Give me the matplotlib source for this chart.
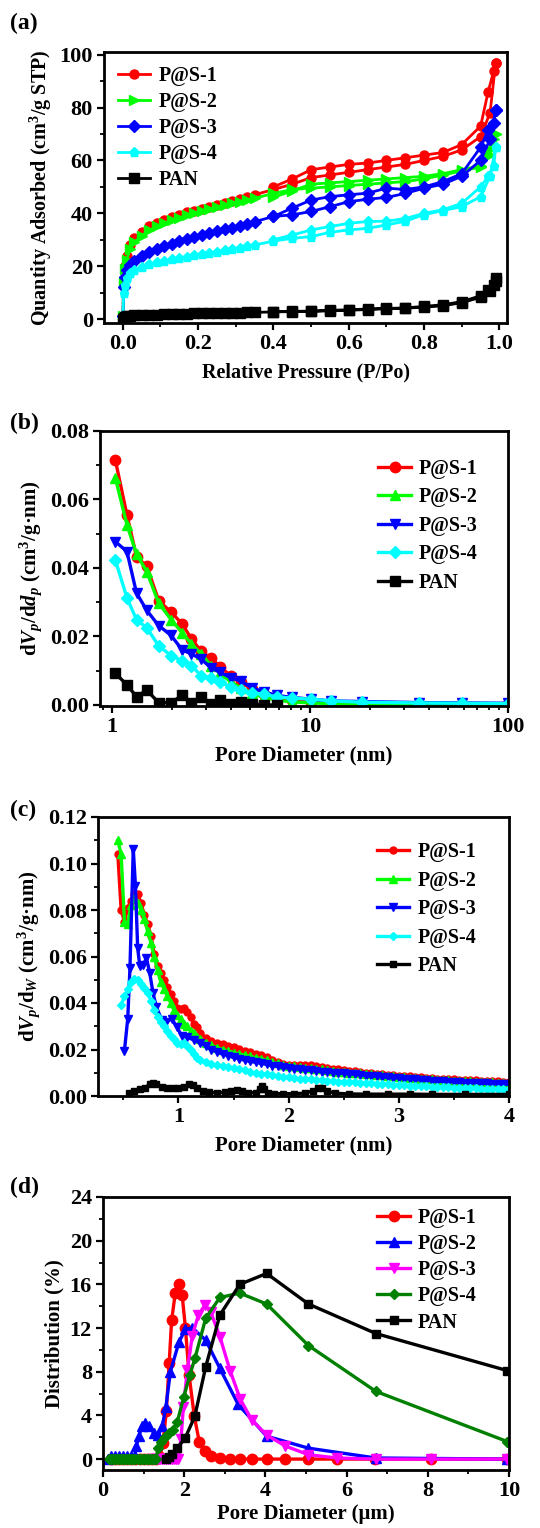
import matplotlib
matplotlib.use("Agg")
import matplotlib.pyplot as plt
from matplotlib.ticker import MultipleLocator, FormatStrFormatter, FixedLocator, NullFormatter, LogLocator

plt.rcParams['font.family'] = ['Liberation Serif', 'DejaVu Serif']
plt.rcParams['font.weight'] = 'bold'
plt.rcParams['axes.labelweight'] = 'bold'
plt.rcParams['mathtext.fontset'] = 'custom'
plt.rcParams['mathtext.rm'] = 'Liberation Serif:bold'
plt.rcParams['mathtext.bf'] = 'Liberation Serif:bold'
plt.rcParams['mathtext.it'] = 'Liberation Serif:italic:bold'
plt.rcParams['mathtext.default'] = 'rm'

# ---------------- Panel (a): N2 isotherms ----------------
a_p_ads = [0.0005, 0.002, 0.005, 0.01, 0.02, 0.03, 0.05, 0.07, 0.09, 0.11, 0.13, 0.15, 0.17, 0.19,
           0.21, 0.23, 0.25, 0.27, 0.29, 0.31, 0.33, 0.35, 0.40, 0.45, 0.50, 0.55, 0.60, 0.65,
           0.70, 0.75, 0.80, 0.85, 0.90, 0.95, 0.975, 0.99]
a_p_des = [0.99, 0.985, 0.97, 0.95, 0.90, 0.85, 0.80, 0.75, 0.70, 0.65, 0.60, 0.55, 0.50, 0.45, 0.40]

a_s1_ads = [1, 15, 20, 24, 28, 30.5, 33, 35, 36.5, 37.5, 38.5, 39.5, 40.3, 41, 41.8, 42.5, 43.2, 44,
            44.8, 45.5, 46.2, 47, 49, 51, 53.5, 54.5, 55.5, 56.5, 57.5, 58.5, 60, 61.5, 64, 69, 78, 97]
a_s1_des = [97, 94, 86, 73, 66, 63, 62, 61, 60, 59, 58.5, 57.5, 56.5, 53, 50]
a_s2_ads = [1, 14, 19, 22.5, 26.5, 29, 31.5, 33.5, 35, 36.2, 37.3, 38.3, 39.2, 40, 40.8, 41.6, 42.3, 43,
            43.7, 44.4, 45, 45.7, 47.5, 49, 49.5, 50, 50.5, 51, 51.5, 52, 53, 54.5, 56, 57.5, 62, 70]
a_s2_des = [70, 68, 64, 58, 56.5, 55, 54, 53.5, 53, 52.5, 52, 51.5, 51, 48.5, 46]
a_s3_ads = [1, 12, 16, 18.5, 20.5, 22, 24, 25.3, 26.5, 27.5, 28.5, 29.5, 30.3, 31, 31.8, 32.5, 33.2, 33.9,
            34.6, 35.3, 36, 36.8, 38.8, 39.4, 40.7, 42.5, 44.4, 45.3, 46, 47.5, 49.5, 51, 54, 60, 68, 79]
a_s3_des = [79, 74, 71.5, 65, 55, 52, 50, 49, 49.5, 47.6, 47, 46.3, 45, 42, 38.8]
a_s4_ads = [0.5, 10, 13, 15.5, 17.5, 18.5, 19.8, 20.7, 21.4, 22, 22.6, 23.1, 23.6, 24.1, 24.6, 25, 25.5, 26,
            26.5, 27, 27.5, 28, 29.5, 30.5, 31.2, 32.8, 33.7, 34.3, 35.6, 37, 39.5, 41, 42.5, 46.3, 54, 65]
a_s4_des = [65, 58, 54, 50, 43.8, 41.3, 40, 38, 37, 36.9, 36.2, 35, 33.7, 31.8, 30]
a_pan_ads = [0, 0.5, 0.8, 1.0, 1.2, 1.4, 1.5, 1.6, 1.7, 1.8, 1.9, 2.0, 2.0, 2.1, 2.2, 2.2, 2.3, 2.3, 2.4,
             2.4, 2.5, 2.5, 2.7, 2.8, 2.9, 3.1, 3.3, 3.6, 3.9, 4.1, 4.5, 5.0, 6.2, 8.2, 10.5, 14.5]
a_pan_des = [15.5, 13, 11, 8.8, 6.6, 5.4, 4.8, 4.2, 4.0, 3.8, 3.5, 3.3, 3.0, 2.9, 2.8]

# ---------------- Panel (b): BJH ----------------
b_d = [1.04, 1.19, 1.33, 1.50, 1.72, 1.99, 2.26, 2.52, 2.82, 3.17, 3.53, 3.97, 4.46, 5.11, 5.85, 6.8,
       8.1, 10.1, 12.7, 18.4, 35.7, 58.8, 100]
b_s1 = [0.0715, 0.0555, 0.0433, 0.0405, 0.0305, 0.0271, 0.0237, 0.0193, 0.0157, 0.0136, 0.0112, 0.0085,
        0.0066, 0.0046, 0.0031, 0.0020, 0.0014, 0.0010, 0.0007, 0.0004, 0.0002, 0.0002, 0.0002]
b_s2 = [0.0663, 0.0526, 0.0441, 0.0389, 0.0298, 0.0249, 0.0211, 0.0178, 0.0149, 0.0115, 0.0092, 0.0068,
        0.0050, 0.0035, 0.0022, 0.0014, 0.0009, 0.0006, 0.0004, 0.0002, 0.0001, 0.0001, 0.0001]
b_s3 = [0.0477, 0.0448, 0.0327, 0.0276, 0.0232, 0.0203, 0.0161, 0.0149, 0.0134, 0.0108, 0.0095, 0.0080,
        0.0070, 0.0050, 0.0038, 0.0028, 0.0022, 0.0017, 0.0012, 0.0010, 0.0007, 0.0006, 0.0005]
b_s4 = [0.0423, 0.0313, 0.0249, 0.0225, 0.0173, 0.0144, 0.0129, 0.0115, 0.0085, 0.0080, 0.0066, 0.0053,
        0.0043, 0.0036, 0.0031, 0.0024, 0.0020, 0.0017, 0.0012, 0.0008, 0.0006, 0.0005, 0.0004]
b_pan_d = [1.04, 1.19, 1.33, 1.50, 1.72, 1.99, 2.26, 2.52, 2.82, 3.17, 3.53, 3.97, 4.46, 5.11, 5.85, 6.8]
b_pan = [0.0092, 0.0059, 0.0024, 0.0043, 0.0007, 0.0007, 0.0028, 0.0007, 0.0024, 0.0004, 0.0014, 0.0004,
         0.0010, 0.0004, 0.0000, 0.0000]

# ---------------- Panel (c): DFT ----------------
c_head = [0.45, 0.48, 0.51, 0.54, 0.57, 0.60, 0.63, 0.66, 0.69, 0.72, 0.75, 0.78, 0.81, 0.84, 0.87, 0.90,
          0.93, 0.96, 0.99, 1.02, 1.05, 1.08, 1.11, 1.14, 1.17]
c_tail = [1.20, 1.25, 1.30, 1.35, 1.40, 1.45, 1.50, 1.55, 1.60, 1.65, 1.70, 1.75, 1.80, 1.85, 1.90, 1.95,
          2.00, 2.05, 2.10, 2.15, 2.20, 2.25, 2.30, 2.35, 2.40, 2.45, 2.50, 2.55, 2.60, 2.65, 2.70, 2.75,
          2.80, 2.85, 2.90, 2.95, 3.00, 3.05, 3.10, 3.15, 3.20, 3.25, 3.30, 3.35, 3.40, 3.45, 3.50, 3.55,
          3.60, 3.65, 3.70, 3.75, 3.80, 3.85, 3.90, 3.95, 4.00]
c_s1_head = [0.104, 0.080, 0.075, 0.081, 0.084, 0.087, 0.087, 0.083, 0.078, 0.074, 0.069, 0.061, 0.056,
             0.053, 0.050, 0.047, 0.044, 0.041, 0.038, 0.0375, 0.038, 0.036, 0.034, 0.031, 0.0295]
c_s1_tail = [0.027, 0.025, 0.0235, 0.0228, 0.0222, 0.0216, 0.021, 0.0203, 0.0195, 0.0188, 0.0182, 0.0176,
             0.0168, 0.0155, 0.0145, 0.0138, 0.0135, 0.0134, 0.0134, 0.0135, 0.0133, 0.0130, 0.0126, 0.0122,
             0.0118, 0.0115, 0.0112, 0.0109, 0.0106, 0.0104, 0.0101, 0.0099, 0.0096, 0.0094, 0.0092, 0.0090,
             0.0088, 0.0086, 0.0084, 0.0082, 0.0080, 0.0078, 0.0076, 0.0074, 0.0073, 0.0072, 0.0071, 0.0070,
             0.0069, 0.0068, 0.0067, 0.0066, 0.0065, 0.0064, 0.0063, 0.0062, 0.0061]
c_s2_head = [0.110, 0.104, 0.075, 0.074, 0.082, 0.085, 0.083, 0.080, 0.076, 0.071, 0.066, 0.060, 0.054,
             0.049, 0.046, 0.043, 0.040, 0.037, 0.035, 0.033, 0.031, 0.030, 0.028, 0.027, 0.0255]
c_s2_tail = [0.0245, 0.0230, 0.0218, 0.0208, 0.0200, 0.0193, 0.0187, 0.0181, 0.0175, 0.0170, 0.0165, 0.0160,
             0.0154, 0.0146, 0.0140, 0.0135, 0.0131, 0.0128, 0.0125, 0.0122, 0.0120, 0.0117, 0.0114, 0.0111,
             0.0108, 0.0105, 0.0103, 0.0101, 0.0099, 0.0097, 0.0095, 0.0093, 0.0091, 0.0089, 0.0087, 0.0085,
             0.0083, 0.0081, 0.0079, 0.0077, 0.0075, 0.0073, 0.0071, 0.0070, 0.0068, 0.0067, 0.0066, 0.0065,
             0.0064, 0.0063, 0.0062, 0.0061, 0.0060, 0.0059, 0.0058, 0.0057, 0.0056]
c_s3_head_x = [0.51, 0.54, 0.56, 0.59, 0.61, 0.63, 0.65, 0.68, 0.71, 0.74, 0.77, 0.80, 0.85, 0.89, 0.94,
               0.985, 1.03, 1.076, 1.14]
c_s3_head = [0.0195, 0.0333, 0.055, 0.1063, 0.0904, 0.0636, 0.0557, 0.0564, 0.0593, 0.0528, 0.0441, 0.0383,
             0.0325, 0.0318, 0.0333, 0.0296, 0.026, 0.0253, 0.0241]
c_s3_tail = [0.0228, 0.0215, 0.0200, 0.0190, 0.0181, 0.0173, 0.0166, 0.0160, 0.0154, 0.0149, 0.0145, 0.0141,
             0.0136, 0.0131, 0.0127, 0.0123, 0.0120, 0.0117, 0.0115, 0.0112, 0.0110, 0.0107, 0.0105, 0.0103,
             0.0101, 0.0099, 0.0097, 0.0095, 0.0093, 0.0091, 0.0088, 0.0086, 0.0084, 0.0082, 0.0080, 0.0079,
             0.0077, 0.0075, 0.0073, 0.0071, 0.0069, 0.0067, 0.0066, 0.0064, 0.0063, 0.0062, 0.0060, 0.0059,
             0.0058, 0.0057, 0.0056, 0.0055, 0.0054, 0.0053, 0.0052, 0.0051, 0.0050]
c_s4_head_x = [0.48, 0.51, 0.54, 0.57, 0.60, 0.63, 0.66, 0.69, 0.72, 0.75, 0.78, 0.81, 0.84, 0.87, 0.90,
               0.93, 0.96, 0.99, 1.02, 1.05, 1.08, 1.11, 1.14, 1.17]
c_s4_head = [0.039, 0.043, 0.046, 0.049, 0.0505, 0.050, 0.048, 0.0465, 0.0445, 0.041, 0.037, 0.034, 0.032,
             0.030, 0.028, 0.026, 0.0245, 0.023, 0.0225, 0.023, 0.0215, 0.020, 0.018, 0.0165]
c_s4_tail = [0.0155, 0.0145, 0.0138, 0.0133, 0.0129, 0.0125, 0.0121, 0.0117, 0.0110, 0.0103, 0.0098, 0.0096,
             0.0094, 0.0090, 0.0086, 0.0083, 0.0080, 0.0078, 0.0075, 0.0073, 0.0071, 0.0069, 0.0067, 0.0065,
             0.0063, 0.0062, 0.0061, 0.0060, 0.0059, 0.0058, 0.0057, 0.0055, 0.0053, 0.0052, 0.0050, 0.0049,
             0.0048, 0.0046, 0.0045, 0.0044, 0.0042, 0.0041, 0.0040, 0.0039, 0.0038, 0.0037, 0.0036, 0.0036,
             0.0035, 0.0034, 0.0033, 0.0032, 0.0031, 0.0031, 0.0030, 0.0029, 0.0029]
c_pan_x = [0.55, 0.60, 0.65, 0.70, 0.74, 0.77, 0.80, 0.85, 0.90, 0.95, 1.00, 1.05, 1.10, 1.13, 1.17, 1.22,
           1.28, 1.35, 1.42, 1.48, 1.53, 1.58, 1.63, 1.70, 1.74, 1.76, 1.78, 1.81, 1.87, 1.95, 2.05, 2.15,
           2.22, 2.27, 2.30, 2.35, 2.42, 2.55, 2.7, 2.9, 3.1, 3.3, 3.6, 4.0]
c_pan = [0.0015, 0.0022, 0.0028, 0.0035, 0.0052, 0.0058, 0.0050, 0.0040, 0.0036, 0.0036, 0.0036, 0.0040,
         0.0050, 0.0048, 0.0035, 0.0022, 0.0016, 0.0014, 0.0016, 0.0022, 0.0025, 0.0020, 0.0014, 0.0014,
         0.0030, 0.0043, 0.0030, 0.0014, 0.0010, 0.0010, 0.0010, 0.0012, 0.0022, 0.0036, 0.0033, 0.0022,
         0.0012, 0.0009, 0.0008, 0.0008, 0.0008, 0.0007, 0.0007, 0.0007]

# ---------------- Panel (d): macropore distribution ----------------
d_s1_x = [0.20, 0.30, 0.40, 0.50, 0.60, 0.70, 0.80, 0.90, 1.00, 1.10, 1.20, 1.30, 1.40, 1.48, 1.56, 1.63,
          1.69, 1.78, 1.86, 1.95, 2.03, 2.12, 2.25, 2.37, 2.51, 2.67, 2.88, 3.13, 3.37, 3.66, 4.03, 4.49,
          5.06, 5.76, 6.70, 8.07, 9.96]
d_s1 = [0, 0, 0, 0, 0, 0, 0, 0, 0, 0, 0, 0, 0.2, 1.5, 4.4, 8.8, 12.7, 15.2, 16.0, 15.0, 12.0, 7.7, 3.9,
        1.6, 0.7, 0.3, 0.1, 0, 0, 0, 0, 0, 0, 0, 0, 0, 0]
d_s2_x = [0.12, 0.2, 0.3, 0.4, 0.5, 0.6, 0.7, 0.78, 0.82, 0.89, 0.95, 1.03, 1.14, 1.25, 1.36, 1.46, 1.55,
          1.66, 1.87, 2.03, 2.2, 2.53, 2.88, 3.33, 4.03, 5.06, 6.72, 9.96]
d_s2 = [0, 0.3, 0.3, 0.3, 0.3, 0.3, 0.3, 0.3, 1.2, 2.1, 3.0, 3.3, 3.0, 2.4, 2.2, 3.0, 4.8, 8.0, 10.7, 11.9,
        12.0, 10.9, 8.3, 5.0, 2.1, 1.0, 0.1, 0]
d_s3_x = [1.20, 1.25, 1.30, 1.35, 1.40, 1.45, 1.50, 1.55, 1.60, 1.65, 1.70, 1.75, 1.80, 1.85, 1.92, 1.98,
          2.08, 2.2, 2.35, 2.51, 2.65, 2.88, 3.13, 3.38, 3.66, 4.03, 4.49, 5.06, 5.76, 6.72, 8.07, 9.96]
d_s3 = [0, 0, 0, 0, 0, 0, 0, 0, 0, 0, 0, 0, 0, 0, 1.8, 4.8, 8.2, 11.3, 13.2, 14.1, 13.5, 11.2, 8.1, 5.5,
        3.6, 2.2, 1.2, 0.4, 0.1, 0, 0, 0]
d_s4_x = [0.15, 0.20, 0.25, 0.30, 0.35, 0.40, 0.45, 0.50, 0.55, 0.60, 0.65, 0.70, 0.75, 0.80, 0.85, 0.90,
          0.95, 1.00, 1.05, 1.10, 1.15, 1.20, 1.25, 1.30, 1.36, 1.44, 1.52, 1.62, 1.72, 1.83, 1.99, 2.14,
          2.27, 2.53, 2.88, 3.37, 4.03, 5.06, 6.72, 9.96]
d_s4 = [0, 0, 0, 0, 0, 0, 0, 0, 0, 0, 0, 0, 0, 0, 0, 0, 0, 0, 0, 0, 0, 0, 0, 0, 1.0, 1.6, 2.0, 2.4, 2.7,
        3.4, 5.7, 7.7, 9.3, 12.9, 14.8, 15.2, 14.2, 10.4, 6.2, 1.6]
d_pan_x = [1.55, 1.62, 1.69, 1.82, 2.02, 2.26, 2.53, 2.88, 3.37, 4.03, 5.06, 6.72, 9.96]
d_pan = [0.0, 0.2, 0.5, 1.0, 1.9, 3.9, 8.45, 13.2, 16.0, 17.0, 14.2, 11.5, 8.1]

labels5 = ['P@S-1', 'P@S-2', 'P@S-3', 'P@S-4', 'PAN']

W, H = 540, 1528
fig = plt.figure(figsize=(W / 100, H / 100), dpi=100)


def make_ax(l, r, t, b):
    return fig.add_axes([l / W, 1 - b / H, (r - l) / W, (b - t) / H])


def style(ax):
    for s in ax.spines.values():
        s.set_linewidth(2)
    ax.tick_params(which='major', direction='out', length=5, width=1.6, labelsize=16, pad=3)
    ax.tick_params(which='minor', direction='out', length=3, width=1.3)
    ax.tick_params(top=False, right=False, which='both')


LFS = 15
LEG = dict(frameon=False, fontsize=14.5, handlelength=1.6, handletextpad=0.4, numpoints=1,
           borderaxespad=0.3)

# ---- (a)
ax = make_ax(104, 507, 52, 323)
series_a = [(a_s1_ads, a_s1_des, '#ff0000', 'o'), (a_s2_ads, a_s2_des, '#00ff00', '>'),
            (a_s3_ads, a_s3_des, '#0000ff', 'D'), (a_s4_ads, a_s4_des, '#00ffff', 'p'),
            (a_pan_ads, a_pan_des, '#000000', 's')]
for (ya, yd, c, m), lab in zip(series_a, labels5):
    ax.plot(a_p_ads + a_p_des, ya + yd, color=c, marker=m, ms=6.5 if m != 'D' else 6, lw=2, label=lab)
ax.set_xlim(-0.05, 1.02)
ax.set_ylim(-1.5, 101)
ax.xaxis.set_major_locator(MultipleLocator(0.2))
ax.xaxis.set_minor_locator(MultipleLocator(0.1))
ax.xaxis.set_major_formatter(FormatStrFormatter('%.1f'))
ax.yaxis.set_major_locator(MultipleLocator(20))
ax.yaxis.set_minor_locator(MultipleLocator(10))
style(ax)
ax.set_xlabel('Relative Pressure (P/Po)', fontsize=14.5, labelpad=6)
ax.set_ylabel('Quantity Adsorbed (cm$^{3}$/g STP)', fontsize=14.5, labelpad=4)
ax.legend(loc='upper left', bbox_to_anchor=(0.0, 1.0), labelspacing=0.3, **LEG)
fig.text(10 / W, 1 - 23 / H, '(a)', fontsize=17, fontweight='bold', va='center')

# ---- (b)
ax = make_ax(100, 508, 431, 706)
series_b = [(b_d, b_s1, '#ff0000', 'o'), (b_d, b_s2, '#00ff00', '^'), (b_d, b_s3, '#0000ff', 'v'),
            (b_d, b_s4, '#00ffff', 'D'), (b_pan_d, b_pan, '#000000', 's')]
for (x, y, c, m), lab in zip(series_b, labels5):
    ax.plot(x, y, color=c, marker=m, ms=7.5 if m != 'D' else 6.5, lw=2.4, label=lab)
ax.set_xscale('log')
ax.set_xlim(0.87, 100)
ax.set_ylim(-0.0003, 0.08)
ax.xaxis.set_major_locator(FixedLocator([1, 10, 100]))
ax.xaxis.set_major_formatter(FormatStrFormatter('%g'))
ax.xaxis.set_minor_locator(LogLocator(base=10, subs=range(2, 10)))
ax.xaxis.set_minor_formatter(NullFormatter())
ax.yaxis.set_major_locator(MultipleLocator(0.02))
ax.yaxis.set_minor_locator(MultipleLocator(0.01))
ax.yaxis.set_major_formatter(FormatStrFormatter('%.2f'))
style(ax)
ax.set_xlabel('Pore Diameter (nm)', fontsize=LFS, labelpad=6)
ax.set_ylabel(r'd$\mathit{V}_{\mathit{p}}$/d$\mathit{d}_{\mathit{p}}$ (cm$^{3}$/g·nm)', fontsize=LFS, labelpad=4)
ax.legend(loc='upper right', bbox_to_anchor=(0.96, 0.95), labelspacing=0.42, **LEG)
fig.text(10 / W, 1 - 423 / H, '(b)', fontsize=17, fontweight='bold', va='center')

# ---- (c)
ax = make_ax(98, 509, 817, 1096)
series_c = [(c_head + c_tail, c_s1_head + c_s1_tail, '#ff0000', 'o', 5),
            (c_head + c_tail, c_s2_head + c_s2_tail, '#00ff00', '^', 5.5),
            (c_s3_head_x + c_tail, c_s3_head + c_s3_tail, '#0000ff', 'v', 5.5),
            (c_s4_head_x + c_tail, c_s4_head + c_s4_tail, '#00ffff', 'D', 4.5),
            (c_pan_x, c_pan, '#000000', 's', 4)]
for (x, y, c, m, s), lab in zip(series_c, labels5):
    ax.plot(x, y, color=c, marker=m, ms=s, lw=2.4, label=lab)
ax.set_xlim(0.27, 4)
ax.set_ylim(0, 0.12)
ax.xaxis.set_major_locator(MultipleLocator(1))
ax.xaxis.set_minor_locator(MultipleLocator(0.5))
ax.yaxis.set_major_locator(MultipleLocator(0.02))
ax.yaxis.set_minor_locator(MultipleLocator(0.01))
ax.yaxis.set_major_formatter(FormatStrFormatter('%.2f'))
style(ax)
ax.set_xlabel('Pore Diameter (nm)', fontsize=LFS, labelpad=6)
ax.set_ylabel(r'd$\mathit{V}_{\mathit{p}}$/d$_{\mathit{W}}$ (cm$^{3}$/g·nm)', fontsize=LFS, labelpad=4)
ax.legend(loc='upper right', bbox_to_anchor=(0.955, 0.96), labelspacing=0.42, **LEG)
fig.text(10 / W, 1 - 810 / H, '(c)', fontsize=17, fontweight='bold', va='center')

# ---- (d)
ax = make_ax(103, 509, 1197, 1470)
series_d = [(d_s1_x, d_s1, '#ff0000', 'o', 7.5), (d_s2_x, d_s2, '#0000ff', '^', 7.5),
            (d_s3_x, d_s3, '#ff00ff', 'v', 7.5), (d_s4_x, d_s4, '#008000', 'D', 5.5),
            (d_pan_x, d_pan, '#000000', 's', 5.5)]
for (x, y, c, m, s), lab in zip(series_d, labels5):
    ax.plot(x, y, color=c, marker=m, ms=s, lw=2.4, label=lab)
ax.set_xlim(0, 10)
ax.set_ylim(-1, 24)
ax.xaxis.set_major_locator(MultipleLocator(2))
ax.xaxis.set_minor_locator(MultipleLocator(1))
ax.yaxis.set_major_locator(MultipleLocator(4))
ax.yaxis.set_minor_locator(MultipleLocator(2))
style(ax)
ax.set_xlabel('Pore Diameter (μm)', fontsize=LFS, labelpad=2)
ax.set_ylabel('Distribution (%)', fontsize=LFS, labelpad=4)
ax.legend(loc='upper right', bbox_to_anchor=(0.955, 1.01), labelspacing=0.3, **LEG)
fig.text(10 / W, 1 - 1187 / H, '(d)', fontsize=17, fontweight='bold', va='center')

fig.savefig('out.png', dpi=100)
